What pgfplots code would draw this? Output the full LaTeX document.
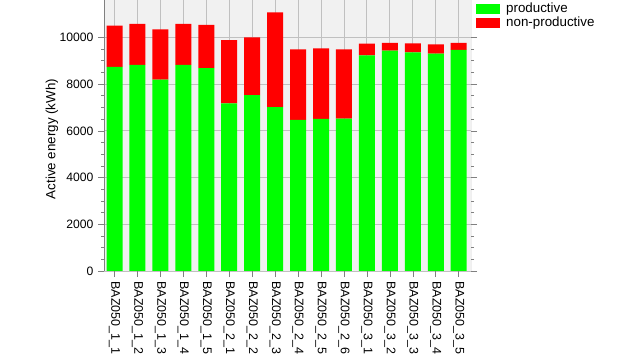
\documentclass[border=0pt]{standalone}
\usepackage{pgfplots}
\pgfplotsset{compat=1.18}
\usepackage{fontspec}
\setmainfont{Liberation Sans}
\definecolor{prod}{RGB}{0,255,0}
\definecolor{nonprod}{RGB}{255,0,0}
\definecolor{bgc}{RGB}{241,241,241}
\definecolor{gridc}{RGB}{192,192,192}
\definecolor{axc}{RGB}{128,128,128}
\begin{document}
\fontsize{13.4}{16}\selectfont
\begin{tikzpicture}
\useasboundingbox (0,0) rectangle (640bp,360bp);
\begin{axis}[
  at={(104bp,89bp)}, anchor=south west,
  scale only axis, width=367bp, height=271bp,
  ybar stacked, bar width=16bp,
  xmin=-0.458, xmax=15.536, ymin=0, ymax=11600,
  xtick={0,...,15},
  xticklabels={BAZ050\_1\_1,BAZ050\_1\_2,BAZ050\_1\_3,BAZ050\_1\_4,BAZ050\_1\_5,BAZ050\_2\_1,BAZ050\_2\_2,BAZ050\_2\_3,BAZ050\_2\_4,BAZ050\_2\_5,BAZ050\_2\_6,BAZ050\_3\_1,BAZ050\_3\_2,BAZ050\_3\_3,BAZ050\_3\_4,BAZ050\_3\_5},
  x tick label style={rotate=-90, anchor=west, font=\fontsize{12.5}{15}\selectfont},
  y tick label style={font=\fontsize{12.2}{15}\selectfont},
  ytick={0,2000,...,10000},
  minor y tick num=3,
  scaled y ticks=false,
  /pgf/number format/1000 sep={},
  /pgf/number format/assume math mode=true,
  ymajorgrids, xmajorgrids,
  grid style={gridc, line width=0.9bp},
  axis background/.style={fill=bgc},
  axis line style={draw=none},
  tick align=outside,
  major tick length=6bp, minor tick length=3bp,
  tick style={axc, line width=0.6bp},
  ylabel={Active energy (kWh)},
  every axis y label/.style={at={(axis description cs:-0.1417,0.487)}, rotate=90, anchor=center, font=\fontsize{13.4}{16}\selectfont},
  legend style={at={(1,1)}, anchor=north west, xshift=2bp, yshift=1bp, draw=none, fill=none,
    font=\fontsize{13.4}{16}\selectfont, row sep=-2bp,
    /tikz/every odd column/.append style={column sep=4bp}},
  legend cell align=left,
]
\addplot[fill=prod, draw=none, legend image code/.code={\fill[prod] (0bp,-5bp) rectangle (24bp,5bp);}] coordinates {
(0,8740) (1,8820) (2,8190) (3,8820) (4,8680) (5,7180) (6,7530) (7,7010)
(8,6470) (9,6510) (10,6520) (11,9230) (12,9430) (13,9360) (14,9300) (15,9470)};
\addlegendentry{productive}
\addplot[fill=nonprod, draw=none, legend image code/.code={\fill[nonprod] (0bp,-5bp) rectangle (24bp,5bp);}] coordinates {
(0,1760) (1,1760) (2,2150) (3,1760) (4,1860) (5,2700) (6,2470) (7,4060)
(8,3020) (9,3020) (10,2970) (11,500) (12,340) (13,380) (14,400) (15,290)};
\addlegendentry{non-productive}
\draw[axc, line width=0.8bp] (rel axis cs:0,0) -- (rel axis cs:0,1);
\draw[axc, line width=3bp] (rel axis cs:0,0) ++(0,-1.5bp) -- ([xshift=3bp,yshift=-1.5bp]rel axis cs:1,0);
\draw[axc, line width=3bp] ([xshift=1.5bp]rel axis cs:1,0) -- ([xshift=1.5bp]rel axis cs:1,1);
\end{axis}
\end{tikzpicture}
\end{document}
